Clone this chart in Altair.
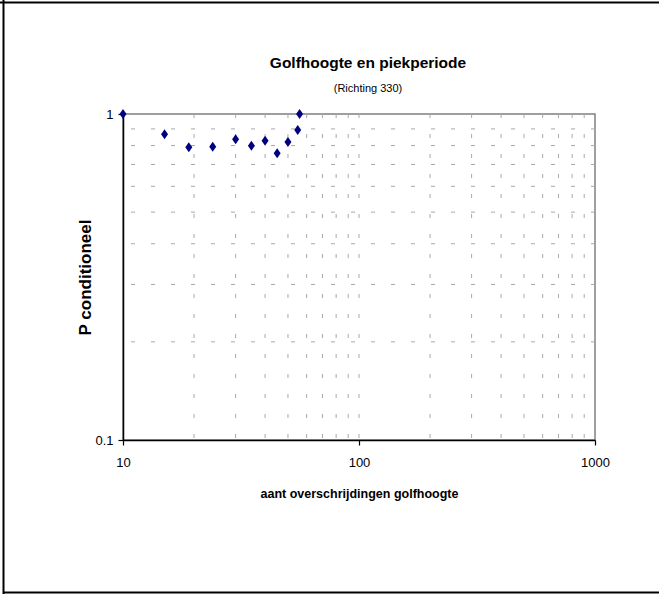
import altair as alt
import pandas as pd

# ---- data ----
x_vals = [10, 15, 19, 24, 30, 35, 40, 45, 50, 55, 56]
y_vals = [1.0, 0.866, 0.790, 0.793, 0.836, 0.799, 0.828, 0.758, 0.821, 0.893, 1.0]
x_grid = [20, 30, 40, 50, 60, 70, 80, 90, 100, 200, 300, 400, 500, 600, 700, 800, 900]
y_grid = [0.2, 0.3, 0.4, 0.5, 0.6, 0.7, 0.8, 0.9]
x_ticks = [10, 100, 1000]
y_ticks = [0.1, 1]

SANS = "Liberation Sans, Arial, sans-serif"
W, H = 472, 326

xscale = alt.Scale(type="log", domain=[10, 1000])
yscale = alt.Scale(type="log", domain=[0.1, 1])

axis_common = dict(
    domainColor="black", domainWidth=1.5, tickColor="black", tickWidth=1.2,
    tickSize=5, labelFont=SANS, labelFontSize=13, labelColor="black",
    labelFlush=False, labelOverlap=False, grid=False, titleColor="black",
)
xaxis = alt.Axis(
    values=x_ticks, format="d", title="aant overschrijdingen golfhoogte",
    titleFont=SANS, titleFontSize=12.5, titleFontWeight="bold",
    labelPadding=11, titlePadding=18, **axis_common)
yaxis = alt.Axis(
    values=y_ticks, format="~g", title="P conditioneel",
    titleFont=SANS, titleFontSize=17, titleFontWeight="bold",
    titleX=-29, titleY=H / 2,
    labelPadding=5, **axis_common)

pts = pd.DataFrame({"x": x_vals, "y": y_vals})

xgrid = alt.Chart(pd.DataFrame({"x": x_grid})).mark_rule(
    color="#a8a8a8", strokeDash=[4, 16], strokeWidth=1
).encode(x=alt.X("x:Q", scale=xscale, axis=xaxis))

ygrid = alt.Chart(pd.DataFrame({"y": y_grid})).mark_rule(
    color="#a8a8a8", strokeDash=[4, 16], strokeWidth=1
).encode(y=alt.Y("y:Q", scale=yscale, axis=yaxis))

points = alt.Chart(pts).mark_point(
    shape="M0,-1L0.7,0L0,1L-0.7,0Z", filled=True, color="#000080",
    size=100, opacity=1, clip=False
).encode(
    x=alt.X("x:Q", scale=xscale, axis=xaxis),
    y=alt.Y("y:Q", scale=yscale, axis=yaxis),
)

frame_df = pd.DataFrame({"k": [0]})
top_line = alt.Chart(frame_df).mark_rule(color="black", strokeWidth=2, clip=False).encode(
    x=alt.value(-123), x2=alt.value(536), y=alt.value(-111.5))
left_line = alt.Chart(frame_df).mark_rule(color="black", strokeWidth=2, clip=False).encode(
    x=alt.value(-119.5), y=alt.value(-114), y2=alt.value(480))
bottom_line = alt.Chart(frame_df).mark_rule(color="black", strokeWidth=2, clip=False).encode(
    x=alt.value(-120), x2=alt.value(536), y=alt.value(478.5))

chart = alt.layer(xgrid, ygrid, points, top_line, left_line, bottom_line).properties(
    width=W, height=H,
    autosize=alt.AutoSizeParams(type="none"),
    padding={"left": 123, "top": 114, "right": 64, "bottom": 154},
    background="white",
    title=alt.Title(
        "Golfhoogte en piekperiode", subtitle="(Richting 330)",
        font=SANS, fontSize=15.5, fontWeight="bold", color="black",
        subtitleFont=SANS, subtitleFontSize=11, subtitleColor="black",
        anchor="middle", frame="group", dx=9, offset=-95, subtitlePadding=12,
    ),
).configure_view(stroke="#808080", strokeWidth=1.5)

chart.save("out.html", embed_options={"renderer": "svg", "actions": False})
